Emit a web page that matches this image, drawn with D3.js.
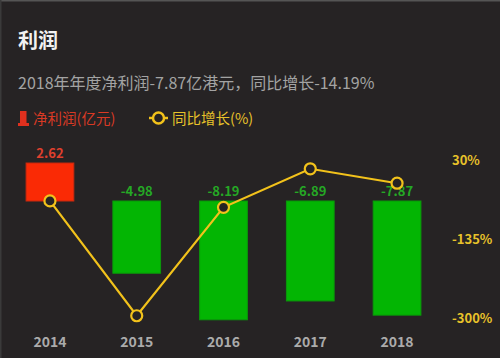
<!DOCTYPE html>
<html><head><meta charset="utf-8">
<script src="https://cdn.jsdelivr.net/npm/d3@7"></script>
<style>
html,body{margin:0;padding:0;background:#262324;}
svg{display:block;}
</style></head>
<body>
<svg id="chart" width="500" height="358"></svg>
<script>
const categories = ["2014","2015","2016","2017","2018"];
const profit = [2.62, -4.98, -8.19, -6.89, -7.87];
const growth = [-51, -290.08, -64.46, 15.87, -14.19];
const growthTicks = [30, -135, -300];

const W = 500, H = 358;
const svg = d3.select("#chart");
const font = "'Noto Sans CJK SC','Noto Sans',sans-serif";

svg.append("rect").attr("width", W).attr("height", H).attr("fill", "#262324");
svg.append("rect").attr("width", W).attr("height", 1.5).attr("fill", "#555");
svg.append("rect").attr("width", 1.5).attr("height", H).attr("fill", "#3a3a3a");

svg.append("text").attr("x", 18).attr("y", 48).text("利润")
  .attr("font-family", font).attr("font-size", 20).attr("font-weight", "bold").attr("fill", "#f2f2f2");
svg.append("text").attr("x", 18).attr("y", 89).text("2018年年度净利润-7.87亿港元，同比增长-14.19%")
  .attr("font-family", font).attr("font-size", 16).attr("fill", "#a3a3a3");

// legend
svg.append("rect").attr("x", 20).attr("y", 111).attr("width", 6.5).attr("height", 14).attr("fill", "#e0301e");
svg.append("rect").attr("x", 18).attr("y", 123).attr("width", 11).attr("height", 3).attr("fill", "#e0301e");
svg.append("text").attr("x", 33).attr("y", 124).text("净利润(亿元)")
  .attr("font-family", font).attr("font-size", 14.5).attr("fill", "#d93a24");
svg.append("line").attr("x1", 149).attr("x2", 168).attr("y1", 118).attr("y2", 118)
  .attr("stroke", "#f2c21b").attr("stroke-width", 2.5);
svg.append("circle").attr("cx", 158.5).attr("cy", 118).attr("r", 5.5)
  .attr("fill", "#262324").attr("stroke", "#f2c21b").attr("stroke-width", 2.5);
svg.append("text").attr("x", 172).attr("y", 124).text("同比增长(%)")
  .attr("font-family", font).attr("font-size", 14.5).attr("fill", "#e8c22a");

const x = d3.scaleBand().domain(categories).range([7, 440]).paddingInner(0.45).paddingOuter(0.22);
const yL = d3.scaleLinear().domain([-8.24, 2.69]).range([320.5, 162]);
const yR = d3.scaleLinear().domain([-300, 30]).range([320.5, 162]);

const cx = d => x(d) + x.bandwidth() / 2;

svg.selectAll("rect.bar").data(categories).enter().append("rect")
  .attr("class", "bar")
  .attr("x", d => x(d))
  .attr("width", x.bandwidth())
  .attr("y", (d, i) => yL(Math.max(0, profit[i])))
  .attr("height", (d, i) => Math.abs(yL(profit[i]) - yL(0)))
  .attr("fill", (d, i) => profit[i] >= 0 ? "#fa2a05" : "#03b503")
  .attr("stroke", (d, i) => profit[i] >= 0 ? "#c82a10" : "#0a9a0a")
  .attr("stroke-width", 1);

svg.selectAll("text.val").data(categories).enter().append("text")
  .attr("class", "val")
  .attr("x", d => cx(d))
  .attr("y", (d, i) => yL(Math.max(0, profit[i])) - 5)
  .attr("text-anchor", "middle")
  .text((d, i) => profit[i].toFixed(2))
  .attr("font-family", font).attr("font-size", 13).attr("font-weight", "bold")
  .attr("fill", (d, i) => profit[i] >= 0 ? "#e0402e" : "#25a825");

const line = d3.line().x((d, i) => cx(categories[i])).y(d => yR(d));
svg.append("path").datum(growth).attr("d", line)
  .attr("fill", "none").attr("stroke", "#f2c21b").attr("stroke-width", 2.2);
svg.selectAll("circle.pt").data(growth).enter().append("circle")
  .attr("class", "pt")
  .attr("cx", (d, i) => cx(categories[i])).attr("cy", d => yR(d)).attr("r", 5.5)
  .attr("fill", "#262324").attr("stroke", "#f2c21b").attr("stroke-width", 2.2);

// right axis
const axR = d3.axisRight(yR).tickValues(growthTicks).tickFormat(d => d + "%").tickSize(0).tickPadding(0);
const gR = svg.append("g").attr("transform", "translate(452,0)").call(axR);
gR.select(".domain").remove();
gR.selectAll("text").attr("font-family", font).attr("font-size", 13).attr("font-weight", "bold")
  .attr("fill", "#e8c22a").attr("x", 0).attr("dy", "0.32em")
  .attr("transform", "translate(0,-2)");

// bottom axis
const axB = d3.axisBottom(x).tickSize(0).tickPadding(0);
const gB = svg.append("g").attr("transform", "translate(0,336)").call(axB);
gB.select(".domain").remove();
gB.selectAll("text").attr("font-family", font).attr("font-size", 14).attr("font-weight", "bold")
  .attr("fill", "#ababab").attr("dy", "0.78em");
</script>
</body></html>
